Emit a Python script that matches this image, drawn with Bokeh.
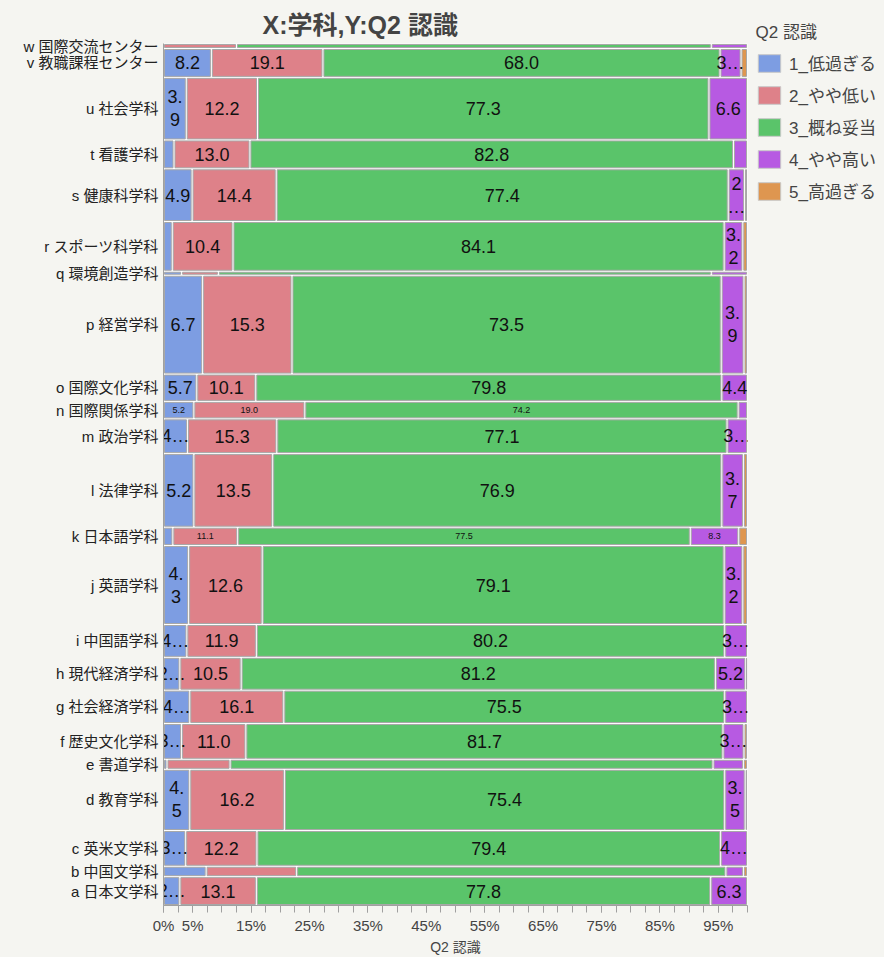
from bokeh.plotting import figure
from bokeh.layouts import row
from bokeh.models import ColumnDataSource, FixedTicker, Legend, LegendItem, PrintfTickFormatter
from bokeh.core.properties import value
from bokeh.embed import file_html
from bokeh.resources import INLINE

# ---- data (bottom row first) ----
DEPTS = ["a 日本文学科", "b 中国文学科", "c 英米文学科", "d 教育学科", "e 書道学科",
         "f 歴史文化学科", "g 社会経済学科", "h 現代経済学科", "i 中国語学科", "j 英語学科",
         "k 日本語学科", "l 法律学科", "m 政治学科", "n 国際関係学科", "o 国際文化学科",
         "p 経営学科", "q 環境創造学科", "r スポーツ科学科", "s 健康科学科", "t 看護学科",
         "u 社会学科", "v 教職課程センター", "w 国際交流センター"]
COUNTS = [167, 60, 207, 354, 58, 207, 193, 190, 190, 457, 106, 426, 201, 101, 158,
          572, 23, 288, 305, 167, 362, 167, 29]
CATS = ["1_低過ぎる", "2_やや低い", "3_概ね妥当", "4_やや高い", "5_高過ぎる"]
P1 = [2.8, 7.3, 3.8, 4.5, 0.6, 3.1, 4.5, 2.8, 4.0, 4.3, 1.6, 5.2, 4.1, 5.2, 5.7, 6.7, 3.1, 1.5, 4.9, 1.8, 3.9, 8.2, 0.0]
P2 = [13.1, 15.5, 12.2, 16.2, 10.8, 11.0, 16.1, 10.5, 11.9, 12.6, 11.1, 13.5, 15.3, 19.0, 10.1, 15.3, 6.3, 10.4, 14.4, 13.0, 12.2, 19.1, 12.5]
P3 = [77.8, 73.5, 79.4, 75.4, 82.7, 81.7, 75.5, 81.2, 80.2, 79.1, 77.5, 76.9, 77.1, 74.2, 79.8, 73.5, 84.4, 84.1, 77.4, 82.8, 77.3, 68.0, 81.3]
P4 = [6.3, 3.0, 4.6, 3.5, 5.2, 3.6, 3.9, 5.2, 3.9, 3.2, 8.3, 3.7, 3.5, 1.6, 4.4, 3.9, 6.2, 3.2, 2.8, 2.4, 6.6, 3.6, 6.2]
P5 = [0.0, 0.7, 0.0, 0.4, 0.7, 0.6, 0.0, 0.3, 0.0, 0.8, 1.5, 0.7, 0.0, 0.0, 0.0, 0.6, 0.0, 0.8, 0.5, 0.0, 0.0, 1.1, 0.0]
X_TICKS = [0, 5, 15, 25, 35, 45, 55, 65, 75, 85, 95]

COLORS = ["#7d9de2", "#de8189", "#5ac46a", "#b75ae2", "#de9650"]
FONT = "Liberation Sans, Noto Sans CJK JP"
BG = "#f5f5f1"
FRAME_W, FRAME_H = 584, 867

total = sum(COUNTS)
ppu_y = FRAME_H / total
pad_y = 1.0 / ppu_y
pad_x = 1.0 * 100 / FRAME_W

p = figure(width=750, height=957, x_range=(0, 100), y_range=(0, total),
           output_backend="svg", toolbar_location=None,
           min_border_left=163, min_border_right=3, min_border_top=43, min_border_bottom=47)
p.background_fill_color = "white"
p.border_fill_color = BG
p.outline_line_color = None
p.grid.visible = False

series = [P1, P2, P3, P4, P5]
cells = [dict(left=[], right=[], bottom=[], top=[]) for _ in CATS]
lab_big = dict(x=[], y=[], text=[])
lab_small = dict(x=[], y=[], text=[])
centers = []
cum = 0.0
for i, name in enumerate(DEPTS):
    n = COUNTS[i]
    b, t = cum, cum + n
    cum = t
    centers.append((b + t) / 2)
    h_px = n * ppu_y
    vals = [s[i] for s in series]
    ssum = sum(vals)
    vals = [v * 100 / ssum for v in vals]
    x0 = 0.0
    for k, v in enumerate(vals):
        x1 = x0 + v
        if v > 0:
            c = cells[k]
            c["left"].append(x0 + pad_x); c["right"].append(x1 - pad_x)
            c["bottom"].append(b + pad_y); c["top"].append(t - pad_y)
            # label rule
            w_px = v * FRAME_W / 100
            txt = f"{series[k][i]:.1f}"
            if h_px >= 12 and w_px >= 16:
                small = h_px < 22
                tw = sum(5 if ch == "." else 10 for ch in txt) * (0.5 if small else 1)
                if tw + 3 <= w_px or (name.startswith("o ") and k == 3):
                    disp = txt
                elif h_px >= 45:
                    disp = (txt[:2] + "\n" + txt[2:]) if w_px >= 17 else (txt[0] + "\n…")
                else:
                    disp = txt[0] + "…"
                d = lab_small if small else lab_big
                d["x"].append((x0 + x1) / 2); d["y"].append((b + t) / 2); d["text"].append(disp)
        x0 = x1

for k, cat in enumerate(CATS):
    p.quad(left="left", right="right", bottom="bottom", top="top",
           source=ColumnDataSource(cells[k]), fill_color=COLORS[k],
           line_color="#a8a8a8", line_width=1)

p.text(x="x", y="y", text="text", source=ColumnDataSource(lab_big),
       text_font=value(FONT), text_font_size=value("18px"), text_color="#111111",
       text_align="center", text_baseline="middle", text_line_height=1.15)
p.text(x="x", y="y", text="text", source=ColumnDataSource(lab_small),
       text_font=value(FONT), text_font_size=value("9px"), text_color="#111111",
       text_align="center", text_baseline="middle")

# axes
xa = p.xaxis[0]
xa.ticker = FixedTicker(ticks=X_TICKS, minor_ticks=[2.5 * j for j in range(41)])
xa.formatter = PrintfTickFormatter(format="%d%%")
xa.axis_label = "Q2 認識"
xa.axis_label_text_font = FONT
xa.axis_label_text_font_style = "normal"
xa.axis_label_text_font_size = "14px"
xa.axis_label_standoff = 2
xa.major_label_text_font = FONT
xa.major_label_text_font_size = "15px"
xa.major_label_standoff = 4
xa.major_tick_out = 7
xa.major_tick_in = 0
xa.minor_tick_out = 7
xa.minor_tick_in = 0
xa.axis_line_color = "#a0a0a0"
xa.major_tick_line_color = "#a0a0a0"
xa.minor_tick_line_color = "#a0a0a0"

ya = p.yaxis[0]
ya.ticker = FixedTicker(ticks=centers, minor_ticks=[])
ya.major_label_overrides = {c: nm for c, nm in zip(centers, DEPTS)}
ya.major_label_text_font = FONT
ya.major_label_text_font_size = "15px"
ya.major_label_text_color = "#222222"
ya.major_tick_out = 0
ya.major_tick_in = 0
ya.major_label_standoff = 5
ya.axis_line_color = "#a0a0a0"

p.title.text = "X:学科,Y:Q2 認識"
p.title.text_font = FONT
p.title.text_font_size = "25px"
p.title.text_font_style = "bold"
p.title.align = "left"
p.title.offset = 99

# ---- legend panel (its title is the legend heading) ----
pl = figure(width=134, height=957, x_range=(0, 1), y_range=(0, 1),
            output_backend="svg", toolbar_location=None,
            min_border_left=0, min_border_right=0, min_border_top=43, min_border_bottom=0)
pl.xaxis.visible = False
pl.yaxis.visible = False
pl.grid.visible = False
pl.outline_line_color = None
pl.background_fill_color = BG
pl.border_fill_color = BG
pl.title.text = "Q2 認識"
pl.title.text_font = FONT
pl.title.text_font_size = "17px"
pl.title.text_font_style = "normal"
pl.title.align = "left"
pl.title.offset = 5
pl.title.standoff = 3
leg_r = []
for k, cat in enumerate(CATS):
    # placeholder glyph outside the visible range, only to carry the legend swatch
    leg_r.append(pl.quad(left=[5], right=[6], bottom=[5], top=[6], fill_color=COLORS[k],
                         line_color="#c8c8c8", line_width=1))
legend = Legend(items=[LegendItem(label=c, renderers=[r]) for c, r in zip(CATS, leg_r)],
                location=(5, 702))
legend.border_line_color = None
legend.background_fill_alpha = 0
legend.glyph_width = 28
legend.glyph_height = 22
legend.label_height = 22
legend.spacing = 7
legend.padding = 0
legend.margin = 0
legend.label_standoff = 6
legend.label_text_font = FONT
legend.label_text_font_size = "17px"
pl.add_layout(legend)

layout = row(p, pl)
layout.styles = {"background-color": BG}
open("out.html", "w").write(file_html(layout, INLINE))
